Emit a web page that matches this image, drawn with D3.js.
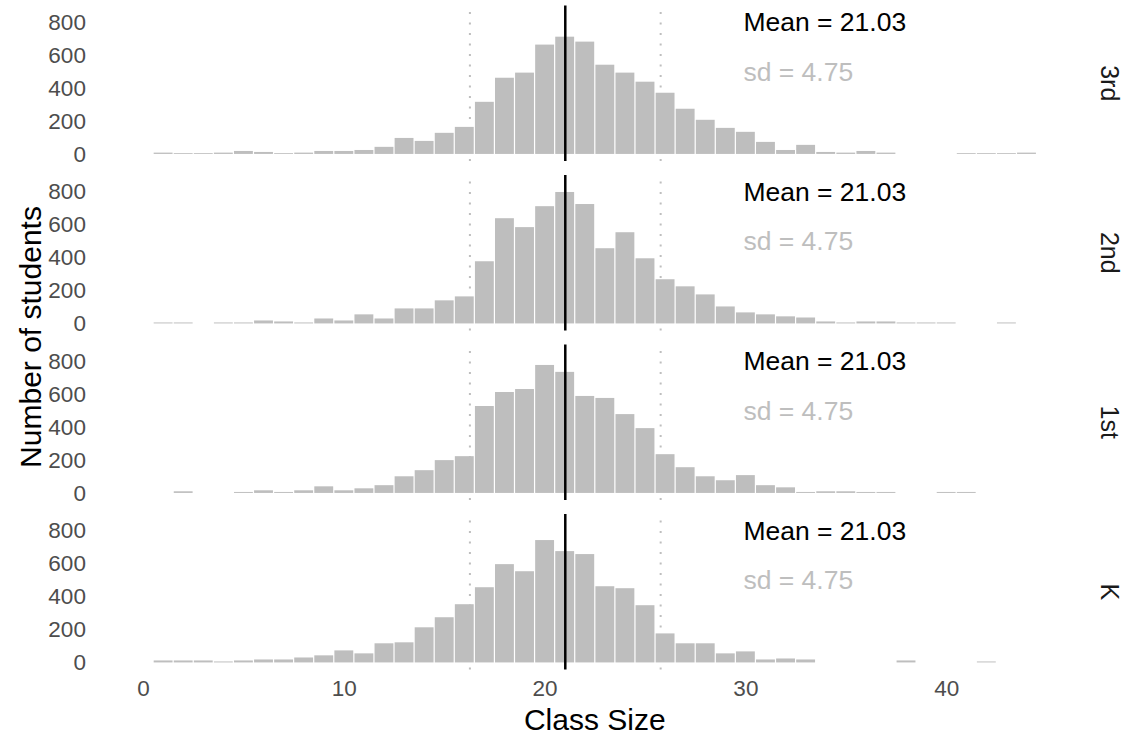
<!DOCTYPE html>
<html><head><meta charset="utf-8">
<script src="https://cdn.jsdelivr.net/npm/d3@7"></script>
<style>body{margin:0;background:#fff;} text{font-family:"Liberation Sans",Arial,Helvetica,sans-serif;}</style>
</head><body><svg id="chart" width="1129" height="740"></svg>
<script>
// ---- data ----
const grades = ["3rd", "2nd", "1st", "K"];
const binCenters = [1,2,3,4,5,6,7,8,9,10,11,12,13,14,15,16,17,18,19,20,21,22,23,24,25,26,27,28,29,30,31,32,33,34,35,36,37,38,39,40,41,42,43,44];
const counts3rd = [8,5,5,8,18,12,5,8,18,18,24,43,97,79,128,164,316,462,493,663,711,681,541,493,438,371,274,207,158,134,73,24,55,12,8,18,8,0,0,0,5,5,5,8];
const counts2nd = [6,6,0,6,6,18,12,6,30,18,55,30,91,91,140,164,377,638,584,711,797,724,456,553,395,268,225,176,103,67,55,43,36,12,6,12,12,6,6,6,0,0,6,0];
const counts1st = [0,10,0,0,6,16,6,16,40,16,28,47,101,138,199,223,527,612,630,776,734,588,576,478,393,235,156,101,77,108,47,34,6,10,10,6,6,0,0,6,6,0,0,0];
const countsK   = [12,12,12,6,12,18,18,30,43,73,55,116,122,213,274,353,456,596,553,742,675,657,462,450,347,176,116,116,55,67,18,24,18,0,0,0,0,12,0,0,0,6,0,0];
const xTicks = [0, 10, 20, 30, 40];
const yTicks = [0, 200, 400, 600, 800];
const meanValue = 21.03;
const sdValue = 4.75;
const meanLabel = "Mean = 21.03";
const sdLabel = "sd = 4.75";
const labelX = 29.9, meanLabelY = 800, sdLabelY = 500;
const xTitle = "Class Size";
const yTitle = "Number of students";

const countsByGrade = [counts3rd, counts2nd, counts1st, countsK];

// ---- layout ----
const svg = d3.select("#chart");
svg.append("rect").attr("width", 1129).attr("height", 740).attr("fill", "#fff");
const panelLeft = 108.9, panelRight = 1080.7;
const panelTops = [5.5, 175, 344.5, 514], panelH = 155.5;
const x = d3.scaleLinear().domain([-1.7, 46.7]).range([panelLeft, panelRight]);
const tickFont = '"Liberation Sans",Arial,sans-serif';

grades.forEach((g, gi) => {
  const top = panelTops[gi], bottom = top + panelH;
  const y = d3.scaleLinear().domain([-42.85, 900]).range([bottom, top]);
  const p = svg.append("g");

  // y axis
  const ya = p.append("g").attr("transform", `translate(${panelLeft},0)`)
    .call(d3.axisLeft(y).tickValues(yTicks).tickSize(0).tickPadding(23));
  ya.select(".domain").remove();
  ya.selectAll("text").attr("fill", "#4d4d4d").style("font-size", "22.5px")
    .style("font-family", tickFont);

  // dotted sd lines (under bars)
  [meanValue - sdValue, meanValue + sdValue].forEach(v => {
    p.append("line").attr("x1", x(v)).attr("x2", x(v)).attr("y1", bottom).attr("y2", top)
      .attr("stroke", "#bebebe").attr("stroke-width", 2).attr("stroke-dasharray", "2,8.5");
  });

  // bars
  const data = binCenters.map((c, i) => ({x0: c - 0.5, x1: c + 0.5, n: countsByGrade[gi][i]}))
    .filter(d => d.n > 0);
  p.selectAll("rect.bar").data(data).enter().append("rect").attr("class", "bar")
    .attr("x", d => x(d.x0) + 0.6)
    .attr("width", d => x(d.x1) - x(d.x0) - 1.2)
    .attr("y", d => y(d.n))
    .attr("height", d => y(0) - y(d.n))
    .attr("fill", "#bebebe");

  // mean line
  p.append("line").attr("x1", x(meanValue)).attr("x2", x(meanValue)).attr("y1", top).attr("y2", bottom)
    .attr("stroke", "#000").attr("stroke-width", 2.5);

  // annotations
  const fs = 26.5;
  p.append("text").attr("x", x(labelX)).attr("y", y(meanLabelY) + 0.358 * fs)
    .style("font-size", fs + "px").attr("fill", "#000").text(meanLabel);
  p.append("text").attr("x", x(labelX)).attr("y", y(sdLabelY) + 0.358 * fs)
    .style("font-size", fs + "px").attr("fill", "#bebebe").text(sdLabel);

  // strip label
  p.append("text").attr("transform", `translate(1110,${(top + bottom) / 2}) rotate(90)`)
    .attr("text-anchor", "middle").attr("dominant-baseline", "central")
    .style("font-size", "25px").attr("fill", "#1a1a1a").text(g);
});

// x axis
const lastBottom = panelTops[3] + panelH;
const xa = svg.append("g").attr("transform", `translate(0,${lastBottom})`)
  .call(d3.axisBottom(x).tickValues(xTicks).tickSize(0).tickPadding(10.5));
xa.select(".domain").remove();
xa.selectAll("text").attr("fill", "#4d4d4d").style("font-size", "22.5px")
  .style("font-family", tickFont);

// titles
svg.append("text").attr("x", (panelLeft + panelRight) / 2).attr("y", 729.5)
  .attr("text-anchor", "middle").style("font-size", "30px").attr("fill", "#000").text(xTitle);
svg.append("text").attr("transform", `translate(30,337) rotate(-90)`)
  .attr("text-anchor", "middle").attr("dominant-baseline", "central")
  .style("font-size", "30px").attr("fill", "#000").text(yTitle);
</script>
</body></html>
